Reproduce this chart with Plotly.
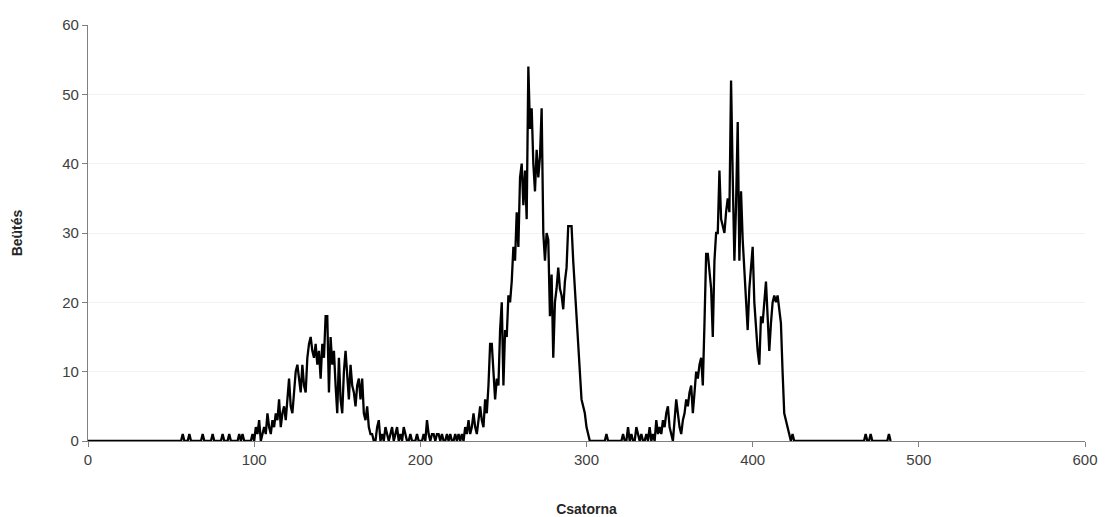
import plotly.graph_objects as go

# Counts per channel (Beütés); channel index = position in list
counts_000_099 = [0]*57 + [1, 0, 0, 0, 1, 0, 0, 0, 0, 0, 0, 0, 1, 0, 0, 0, 0, 0, 1, 0, 0, 0, 0, 0, 1,
                           0, 0, 0, 1, 0, 0, 0, 0, 0, 1, 0, 1, 0, 0, 0, 0, 0, 1]
counts_100_175 = [0, 2, 1, 3, 0, 1, 2, 1, 4, 2, 1, 3, 2, 4, 3, 6, 2, 4, 5, 3,
                  6, 9, 5, 4, 7, 10, 11, 9, 7, 11, 8, 7, 12, 14, 15, 13, 12, 14, 11, 13,
                  9, 14, 12, 18, 18, 7, 15, 11, 13, 8, 4, 12, 6, 4, 10, 13, 9, 6, 11, 8,
                  7, 5, 8, 9, 6, 9, 4, 3, 5, 2, 1, 1, 0, 0, 2, 3]
counts_176_240 = [0, 1, 0, 2, 1, 0, 1, 2, 0, 1, 2, 0, 1, 0, 2, 1, 0, 0, 1, 0,
                  0, 0, 1, 0, 0, 0, 1, 0, 3, 1, 0, 1, 1, 0, 1, 1, 0, 1, 0, 0,
                  1, 0, 1, 0, 0, 1, 0, 1, 0, 1, 0, 2, 1, 3, 1, 2, 4, 2, 1, 3,
                  5, 3, 2, 6, 4]
counts_241_302 = [8, 14, 14, 9, 6, 9, 8, 16, 20, 8, 16, 15, 21, 20, 23, 28, 26, 33, 28, 38,
                  40, 34, 39, 32, 54, 45, 48, 40, 36, 42, 38, 41, 48, 30, 26, 30, 29, 18, 24, 12,
                  20, 22, 25, 22, 21, 19, 23, 25, 31, 31, 31, 26, 22, 19, 14, 10, 6, 5, 4, 2,
                  1, 0]
counts_303_343 = [0]*9 + [1] + [0]*9 + [1, 0, 0, 2, 0, 1, 0, 0, 2, 1, 0, 1, 0, 0, 1, 0, 2, 0, 1, 0, 3, 1]
counts_344_425 = [2, 1, 3, 2, 4, 5, 2, 1, 0, 3, 6, 4, 2, 1, 3, 4, 6, 5, 7, 8,
                  4, 7, 10, 9, 11, 12, 8, 17, 27, 27, 24, 22, 15, 26, 30, 30, 39, 32, 31, 30,
                  33, 35, 33, 52, 38, 26, 34, 46, 26, 36, 29, 25, 21, 16, 22, 25, 28, 20, 16, 13,
                  11, 18, 17, 20, 23, 18, 13, 17, 20, 21, 20, 21, 19, 17, 10, 4, 3, 2, 1, 0,
                  1, 0]
counts_426_483 = [0]*42 + [1, 0, 0, 1] + [0]*10 + [1, 0]

counts = (counts_000_099 + counts_100_175 + counts_176_240 + counts_241_302
          + counts_303_343 + counts_344_425 + counts_426_483)
channels = list(range(len(counts)))

x_ticks = [0, 100, 200, 300, 400, 500, 600]
y_ticks = [0, 10, 20, 30, 40, 50, 60]

fig = go.Figure()
fig.add_trace(go.Scatter(x=channels, y=counts, mode="lines",
                         line=dict(color="black", width=2.3), showlegend=False))

font_family = "Liberation Sans, Arial, sans-serif"
fig.update_layout(
    width=1105, height=517,
    margin=dict(l=88, r=20, t=25, b=76),
    plot_bgcolor="white", paper_bgcolor="white",
    font=dict(family=font_family, color="#404040"),
)
fig.update_xaxes(
    range=[0, 600], tickvals=x_ticks, showgrid=False, zeroline=False,
    showline=True, linecolor="#7f7f7f", linewidth=1.2,
    ticks="outside", ticklen=5, tickcolor="#7f7f7f",
    tickfont=dict(size=15, color="#404040"), automargin=False,
    title=dict(text="<b>Csatorna</b>", font=dict(size=14, color="#262626"), standoff=38),
)
fig.update_yaxes(
    range=[0, 60], tickvals=y_ticks, showgrid=True, gridcolor="#f2f2f2", gridwidth=1,
    zeroline=False, showline=True, linecolor="#7f7f7f", linewidth=1.2,
    ticks="outside", ticklen=5, tickcolor="#7f7f7f",
    tickfont=dict(size=15, color="#404040"), automargin=False,
    title=dict(text="<b>Beütés</b>", font=dict(size=14, color="#262626"), standoff=36),
)

fig.write_html("out.html", config={"displayModeBar": False},
               post_script="document.body.style.margin='0';document.body.style.overflow='hidden';")
